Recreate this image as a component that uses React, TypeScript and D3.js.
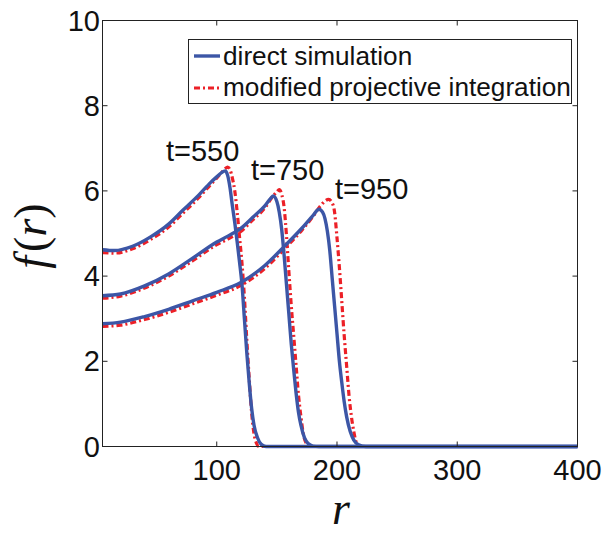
import React from "react";
import * as d3 from "d3";

// ---- data ----
const xTicks = [100, 200, 300, 400];
const yTicks = [0, 2, 4, 6, 8, 10];
const xDomain = [5, 400];
const yDomain = [0, 10];

// direct simulation (blue solid) [r, f]
const blue550: [number, number][] = [
  [5, 4.62], [15, 4.6], [30, 4.7], [45, 4.92], [60, 5.22], [72, 5.55], [85, 5.9], [95, 6.2], [100, 6.33],
  [104, 6.43], [107, 6.47], [109, 6.37], [111, 6.08], [113, 5.65], [115, 5.25], [117, 4.8], [119, 4.32],
  [121, 3.8], [123, 3.0], [125, 2.2], [127, 1.5], [129, 0.9], [131, 0.5], [134, 0.2], [137, 0.05], [141, 0], [400, 0],
];
const blue750: [number, number][] = [
  [5, 3.54], [20, 3.58], [40, 3.77], [60, 4.05], [80, 4.42], [100, 4.8], [110, 4.95], [120, 5.12], [130, 5.38],
  [140, 5.65], [145, 5.83], [147, 5.88], [150, 5.75], [152, 5.5], [154, 5.1], [156, 4.5], [158, 3.8], [160, 3.1],
  [162, 2.4], [164, 1.8], [166, 1.25], [168, 0.8], [170, 0.5], [173, 0.2], [176, 0.07], [180, 0.01], [185, 0], [400, 0],
];
const blue950: [number, number][] = [
  [5, 2.88], [20, 2.92], [40, 3.05], [60, 3.22], [80, 3.42], [100, 3.62], [120, 3.85], [140, 4.25], [157, 4.72],
  [170, 5.1], [180, 5.42], [185, 5.57], [188, 5.5], [190, 5.35], [192, 5.05], [194, 4.6], [196, 3.95], [198, 3.3],
  [200, 2.65], [202, 2.0], [204, 1.5], [206, 1.05], [208, 0.7], [211, 0.35], [214, 0.15], [218, 0.04], [224, 0], [400, 0],
];

// modified projective integration (red dash-dot) [r, f]
const red550: [number, number][] = [
  [5, 4.55], [15, 4.54], [30, 4.64], [45, 4.86], [60, 5.15], [72, 5.48], [85, 5.84], [95, 6.15], [100, 6.3],
  [104, 6.43], [107, 6.52], [109, 6.56], [111, 6.5], [113, 6.3], [115, 6.0], [117, 5.5], [119, 4.9], [121, 4.3],
  [123, 3.5], [125, 2.5], [127, 1.6], [129, 0.8], [131, 0.3], [133, 0.08], [135, 0], [400, 0],
];
const red750: [number, number][] = [
  [5, 3.48], [20, 3.53], [40, 3.72], [60, 4.0], [80, 4.36], [100, 4.74], [110, 4.88], [120, 5.05], [130, 5.32],
  [140, 5.6], [146, 5.85], [150, 5.98], [152, 6.03], [154, 5.92], [156, 5.62], [158, 4.95], [160, 4.1], [162, 3.3],
  [164, 2.6], [166, 1.9], [168, 1.2], [170, 0.7], [172, 0.3], [174, 0.1], [177, 0], [400, 0],
];
const red950: [number, number][] = [
  [5, 2.82], [20, 2.85], [40, 2.98], [60, 3.15], [80, 3.35], [100, 3.55], [120, 3.78], [140, 4.18], [157, 4.66],
  [170, 5.05], [180, 5.4], [186, 5.64], [190, 5.76], [193, 5.8], [196, 5.72], [198, 5.5], [200, 4.9], [202, 4.2],
  [204, 3.4], [206, 2.6], [208, 1.9], [210, 1.2], [212, 0.7], [214, 0.35], [216, 0.1], [219, 0], [400, 0],
];

const blueSeries = [blue550, blue750, blue950];
const redSeries = [red550, red750, red950];
const curveLabels = ["t=550", "t=750", "t=950"];
const legendLabels = ["direct simulation", "modified projective integration"];

const W = 613;
const H = 534;
const M = { left: 102.5, right: 577.5, top: 20.5, bottom: 446.5 };
const BLUE = "#3c56a6";
const RED = "#ec2027";
const SANS = "'Liberation Sans', Arial, Helvetica, sans-serif";
const SERIF = "'Liberation Serif', 'Times New Roman', serif";
// label positions (layout, in pixels)
const labelPos: [number, number][] = [[166, 161], [251, 180], [335, 199]];

export default function App() {
  const x = d3.scaleLinear().domain(xDomain).range([M.left, M.right]);
  const y = d3.scaleLinear().domain(yDomain).range([M.bottom, M.top]);
  const line = d3
    .line<[number, number]>()
    .x((d) => x(d[0]))
    .y((d) => y(d[1]))
    .curve(d3.curveMonotoneX);

  const tickLen = 5;

  return (
    <svg
      width={W}
      height={H}
      style={{ position: "absolute", left: 0, top: 0, background: "#fff" }}
      fontFamily={SANS}
    >
      <rect x={0} y={0} width={W} height={H} fill="#fff" />
      {/* curves */}
      <g fill="none">
        {redSeries.map((s, i) => (
          <path key={"r" + i} d={line(s) || ""} stroke={RED} strokeWidth={3.2} strokeDasharray="6,3,2,3" />
        ))}
        {blueSeries.map((s, i) => (
          <path key={"b" + i} d={line(s) || ""} stroke={BLUE} strokeWidth={3.4} />
        ))}
      </g>
      {/* frame */}
      <rect x={M.left} y={M.top} width={M.right - M.left} height={M.bottom - M.top} fill="none" stroke="#222" strokeWidth={1} />
      {/* x ticks */}
      {xTicks.map((t) => (
        <g key={"xt" + t}>
          <line x1={x(t)} x2={x(t)} y1={M.bottom} y2={M.bottom - tickLen} stroke="#222" />
          <line x1={x(t)} x2={x(t)} y1={M.top} y2={M.top + tickLen} stroke="#222" />
          <text x={x(t)} y={480} fontSize={29} textAnchor="middle" fill="#111">
            {t}
          </text>
        </g>
      ))}
      {/* y ticks */}
      {yTicks.map((t) => (
        <g key={"yt" + t}>
          <line x1={M.left} x2={M.left + tickLen} y1={y(t)} y2={y(t)} stroke="#222" />
          <line x1={M.right} x2={M.right - tickLen} y1={y(t)} y2={y(t)} stroke="#222" />
          <text x={100} y={y(t) + 10} fontSize={29} textAnchor="end" fill="#111">
            {t}
          </text>
        </g>
      ))}
      {/* curve labels */}
      {curveLabels.map((l, i) => (
        <text key={l} x={labelPos[i][0]} y={labelPos[i][1]} fontSize={29} fill="#111">
          {l}
        </text>
      ))}
      {/* legend */}
      <g>
        <rect x={188.5} y={39.5} width={383} height={64} fill="#fff" stroke="#222" strokeWidth={1} />
        <line x1={194} x2={220} y1={56} y2={56} stroke={BLUE} strokeWidth={3.4} />
        <line x1={194} x2={220} y1={88} y2={88} stroke={RED} strokeWidth={3.2} strokeDasharray="6,3,2,3" />
        <text x={223} y={65} fontSize={26.2} fill="#111">{legendLabels[0]}</text>
        <text x={223} y={96} fontSize={26.2} fill="#111">{legendLabels[1]}</text>
      </g>
      {/* axis labels */}
      <text x={341} y={524} fontSize={46} fontStyle="italic" fontFamily={SERIF} textAnchor="middle" fill="#111">
        r
      </text>
      <text
        transform={`translate(46, 236) rotate(-90)`}
        fontSize={46}
        fontFamily={SERIF}
        textAnchor="middle"
        fill="#111"
      >
        <tspan fontStyle="italic">f</tspan>
        <tspan dx={4}>(</tspan>
        <tspan fontStyle="italic">r</tspan>
        <tspan>)</tspan>
      </text>
    </svg>
  );
}
